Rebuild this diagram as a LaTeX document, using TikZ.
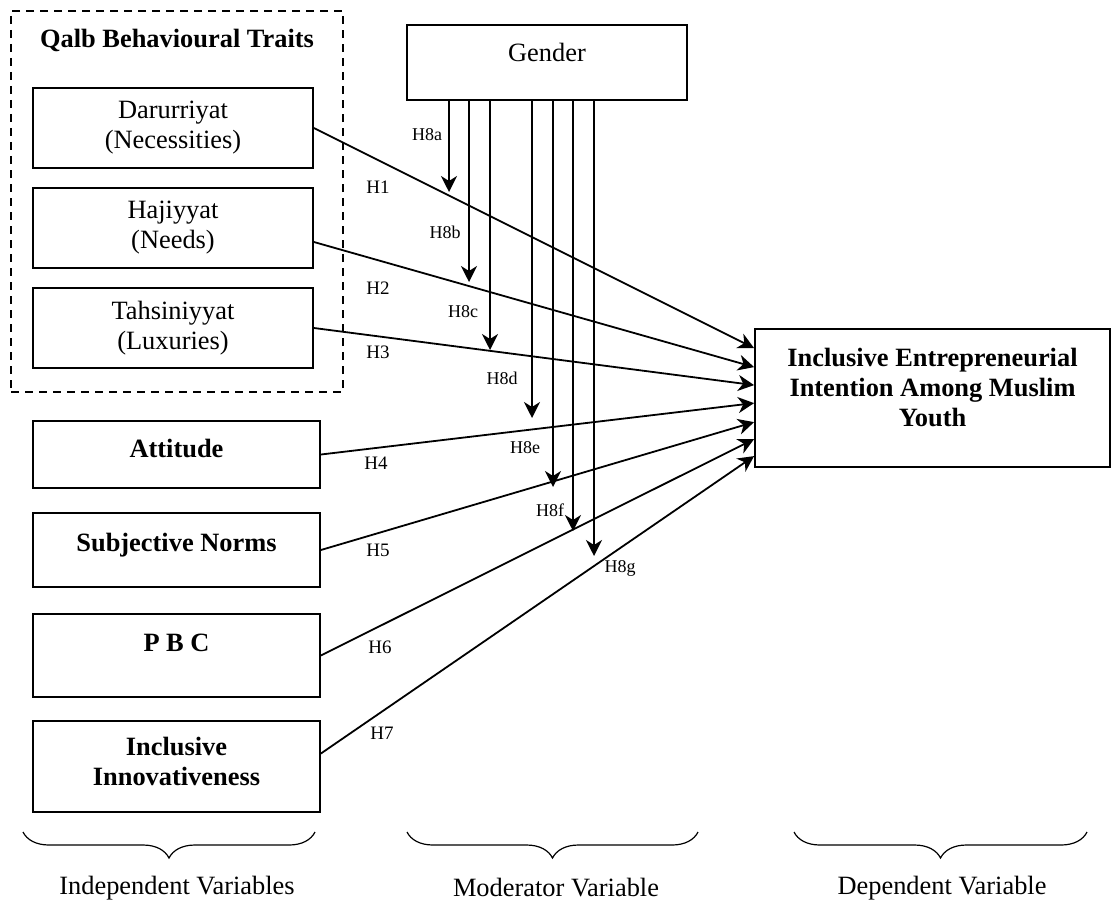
\documentclass[tikz,border=0pt]{standalone}
\usepackage{fontspec}
\setmainfont{Liberation Serif}
\usetikzlibrary{arrows.meta, calc, decorations.pathreplacing}
\newcommand{\boxfont}{\fontsize{13.2}{15}\selectfont}
\newcommand{\hypfont}{\fontsize{9.5}{11}\selectfont}
\newcommand{\modfont}{\fontsize{9}{10}\selectfont}
\tikzset{
    varbox/.style={draw, line width=0.9pt, align=center, font=\boxfont, inner sep=0pt},
    ivbox/.style={varbox, minimum width=143.5pt, font=\boxfont\bfseries},
    qbox/.style={varbox, minimum width=140pt, minimum height=40pt},
    pathline/.style={line width=0.9pt, -{Stealth[length=8pt, width=8pt, inset=2.5pt]}},
    hyp/.style={font=\hypfont, inner sep=0pt},
    modlab/.style={font=\modfont, inner sep=0pt},
    brc/.style={decorate, decoration={brace, mirror, amplitude=13pt}, line width=0.6pt},
}
\begin{document}
\begin{tikzpicture}[x=0.5pt, y=-0.5pt]
    \useasboundingbox (0,0) rectangle (1111,904);

    % Qalb group
    \node[draw, line width=0.8pt, dash pattern=on 4pt off 3pt, minimum width=166pt, minimum height=190.5pt] (qalb) at (177,201.5) {};
    \node[font=\boxfont\bfseries, inner sep=0pt] (qalbtitle) at (177,40) {Qalb Behavioural Traits};
    \node[qbox] (dar) at (173,128) {Darurriyat\\(Necessities)};
    \node[qbox] (haj) at (173,228) {Hajiyyat\\(Needs)};
    \node[qbox] (tah) at (173,328) {Tahsiniyyat\\(Luxuries)};

    % other independent variables
    \node[ivbox, minimum height=33.5pt, text depth=6pt] (att) at (176.5,454.5) {Attitude};
    \node[ivbox, minimum height=37pt, text depth=8pt] (subj) at (176.5,550) {Subjective Norms};
    \node[ivbox, minimum height=41.5pt, text depth=13pt] (pbc) at (176.5,655.5) {P B C};
    \node[ivbox, minimum height=45.5pt, text depth=5pt] (inn) at (176.5,766.5) {Inclusive\\Innovativeness};

    % moderator and dependent variable
    \node[varbox, minimum width=140pt, minimum height=37.5pt, text depth=10pt] (gender) at (547,62.5) {Gender};
    \node[varbox, font=\boxfont\bfseries, minimum width=177.5pt, minimum height=69pt, text depth=11pt] (target) at (932.5,398)
        {Inclusive Entrepreneurial\\Intention Among Muslim\\Youth};

    % entry points on the dependent variable
    \foreach \i/\d in {1/20, 2/39, 3/57, 4/75, 5/94, 6/111, 7/128}
        \coordinate (in\i) at ($(target.north west)+(0,\d)$);

    % direct paths H1--H7
    \draw[pathline] (dar.east) -- (in1);
    \draw[pathline] ($(haj.east)+(0,14)$) -- (in2);
    \draw[pathline] (tah.east) -- (in3);
    \draw[pathline] (att.east) -- (in4);
    \draw[pathline] (subj.east) -- (in5);
    \draw[pathline] (pbc.east) -- (in6);
    \draw[pathline] ($(inn.east)+(0,-13)$) -- (in7);

    \foreach \i/\x/\y in {1/378/187, 2/378/288, 3/378/352, 4/376/463, 5/378/550, 6/380/647, 7/382/733}
        \node[hyp] (h\i) at (\x,\y) {H\i};

    % moderating paths H8a--H8g
    \foreach \n/\x/\y in {a/449/192, b/469/282, c/490/350, d/532/418, e/553/487, f/573/531, g/594/556} {
        \coordinate (m\n) at (\x,\y);
        \draw[pathline] (gender.south -| m\n) -- (m\n);
    }
    \foreach \n/\x/\y in {a/427/135, b/445/232, c/463/312, d/502/378, e/525/448, f/550/510, g/620/568}
        \node[modlab] (l\n) at (\x,\y) {H8\n};

    % braces and captions
    \draw[brc] (23,832) -- (315,832);
    \draw[brc] (407,832) -- (698,832);
    \draw[brc] (794,832) -- (1087,832);
    \node[font=\boxfont] (indep) at (177,888) {Independent Variables};
    \node[font=\boxfont] (moder) at (556,888) {Moderator Variable};
    \node[font=\boxfont] (depen) at (942,888) {Dependent Variable};
\end{tikzpicture}
\end{document}
